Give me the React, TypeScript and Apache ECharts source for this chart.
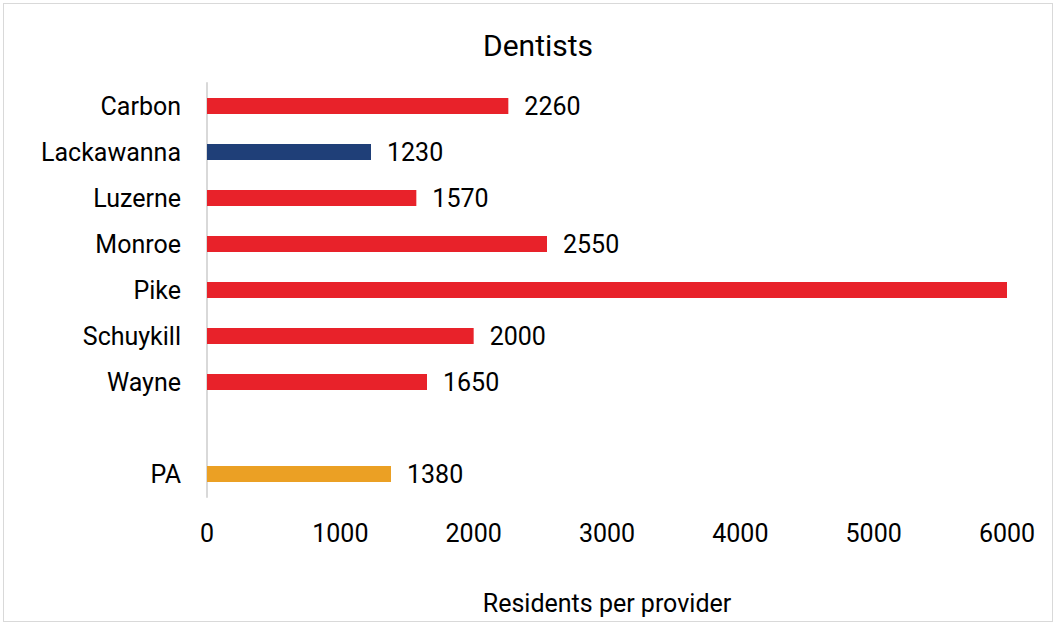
import React, { useEffect, useRef } from "react";
import * as echarts from "echarts";

const categories = ["Carbon", "Lackawanna", "Luzerne", "Monroe", "Pike", "Schuykill", "Wayne", "", "PA"];
const values: (number | null)[] = [2260, 1230, 1570, 2550, 6500, 2000, 1650, null, 1380];
const colors = ["#e8222a", "#1f3f78", "#e8222a", "#e8222a", "#e8222a", "#e8222a", "#e8222a", "#e8222a", "#eba024"];
const hiddenLabels = ["Pike"];
const xTicks = { min: 0, max: 6000, interval: 1000 };

export default function App() {
  const ref = useRef<HTMLDivElement>(null);
  useEffect(() => {
    if (!ref.current) return;
    const chart = echarts.init(ref.current, undefined, { renderer: "svg" });
    const font = "Roboto, 'Liberation Sans', Arial, sans-serif";
    chart.setOption({
      animation: false,
      textStyle: { fontFamily: font },
      title: {
        text: "Dentists",
        left: 478,
        top: 25,
        textStyle: { fontSize: 30, fontWeight: "normal", color: "#000", fontFamily: font },
      },
      grid: { left: 207, right: 49, top: 83, bottom: 127, containLabel: false },
      xAxis: {
        type: "value",
        min: xTicks.min,
        max: xTicks.max,
        interval: xTicks.interval,
        axisLine: { show: false },
        axisTick: { show: false },
        splitLine: { show: false },
        axisLabel: { fontSize: 25, color: "#000", margin: 24, formatter: (v: number) => String(v) },
        name: "Residents per provider",
        nameLocation: "middle",
        nameGap: 94,
        nameTextStyle: { fontSize: 25, color: "#000" },
      },
      yAxis: {
        type: "category",
        inverse: true,
        data: categories,
        axisLine: { show: true, lineStyle: { color: "#d9d9d9", width: 2 } },
        axisTick: { show: false },
        axisLabel: { fontSize: 25, color: "#000", margin: 26 },
      },
      series: [
        {
          type: "bar",
          barWidth: 16,
          data: values.map((v, i) => ({
            value: v,
            itemStyle: { color: colors[i] },
            label: { show: v !== null && !hiddenLabels.includes(categories[i]) },
          })),
          label: {
            show: true,
            position: "right",
            distance: 16,
            fontSize: 25,
            color: "#000",
          },
        },
      ],
    });
    return () => chart.dispose();
  }, []);
  return (
    <div
      style={{
        position: "fixed",
        left: 0,
        top: 0,
        width: 1056,
        height: 624,
        background: "#fff",
      }}
    >
      <div ref={ref} style={{ position: "absolute", left: 0, top: 0, width: 1056, height: 624 }} />
      <div
        style={{
          position: "absolute",
          left: 3,
          top: 3,
          width: 1048,
          height: 617,
          border: "1px solid #d9d9d9",
          pointerEvents: "none",
        }}
      />
    </div>
  );
}
